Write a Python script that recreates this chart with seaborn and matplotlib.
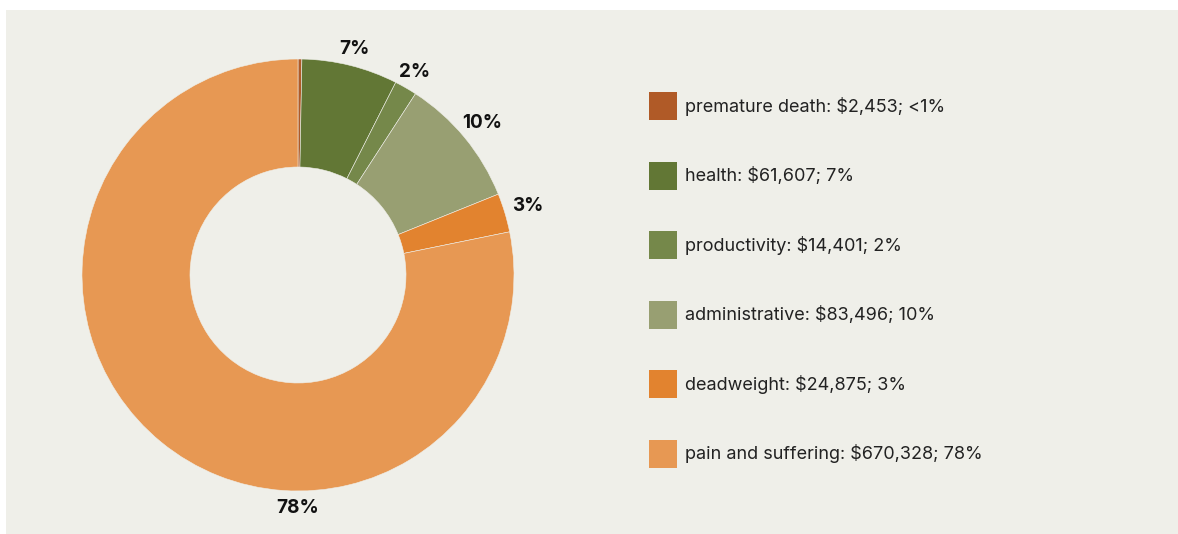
import numpy as np
import matplotlib
matplotlib.use("Agg")
import matplotlib.pyplot as plt
import matplotlib.patches as mpatches
import seaborn as sns

# cost components (dollars) and shown shares
categories = ["premature death", "health", "productivity", "administrative",
              "deadweight", "pain and suffering"]
costs = [2453, 61607, 14401, 83496, 24875, 670328]
share_labels = ["<1%", "7%", "2%", "10%", "3%", "78%"]
colors = ["#b05a27", "#627735", "#75884a", "#989f72", "#e2832f", "#e79853"]

bg = "#efefe9"
W, H = 1178, 534

sns.set_style("white")
plt.rcParams["font.family"] = ["Inter", "DejaVu Sans"]

fig = plt.figure(figsize=(W / 100, H / 100), dpi=100, facecolor="white")
fig.patches.append(mpatches.Rectangle((6 / W, 0), 1 - 6 / W, 1 - 10 / H,
                                      transform=fig.transFigure,
                                      facecolor=bg, edgecolor="none", zorder=-10))

# donut: centre (298, 275) px, outer radius 216 px
cx, cy, r = 298, 275, 216
ax = fig.add_axes([(cx - r) / W, (H - cy - r) / H, 2 * r / W, 2 * r / H])
ax.set_facecolor("none")
ax.set_zorder(2)
wedges, _ = ax.pie(costs, colors=colors, startangle=90, counterclock=False,
                   wedgeprops=dict(width=0.5, edgecolor=bg, linewidth=0.4))
ax.set_xlim(-1, 1)
ax.set_ylim(-1, 1)
ax.set_aspect("equal")
ax.axis("off")

# percentage labels just outside the ring, box edge a few px off the rim
renderer = fig.canvas.get_renderer()
pad = 8 / r
biggest = int(np.argmax(costs))
for i, w in enumerate(wedges):
    if costs[i] / sum(costs) < 0.01:
        continue
    ang = -90 if i == biggest else (w.theta1 + w.theta2) / 2
    t = ax.text(0, 0, share_labels[i], ha="center", va="center", fontsize=13.6,
                fontweight="bold", color="#111111", clip_on=False)
    bb = t.get_window_extent(renderer)
    hw, hh = bb.width / 2 / r, bb.height / 2 / r
    c, s = abs(np.cos(np.radians(ang))), abs(np.sin(np.radians(ang)))
    d = min(hw / c if c > 1e-6 else 1e9, hh / s if s > 1e-6 else 1e9)
    dist = 1 + pad + d
    t.set_position((dist * np.cos(np.radians(ang)), dist * np.sin(np.radians(ang))))

# legend on the right
fs = 13.0
handles = [mpatches.Patch(facecolor=c, edgecolor="none") for c in colors]
labels = [f"{n}: ${v:,}; {s}" for n, v, s in zip(categories, costs, share_labels)]
leg = fig.legend(handles, labels, loc="upper left",
                 bbox_to_anchor=(649 / W, 1 - 92 / H), frameon=False,
                 fontsize=fs, handlelength=1.55, handleheight=2.01,
                 handletextpad=0.44, labelspacing=2.3, borderpad=0,
                 borderaxespad=0)
for t in leg.get_texts():
    t.set_color("#222222")

fig.savefig("out.png", dpi=100, facecolor="white")
